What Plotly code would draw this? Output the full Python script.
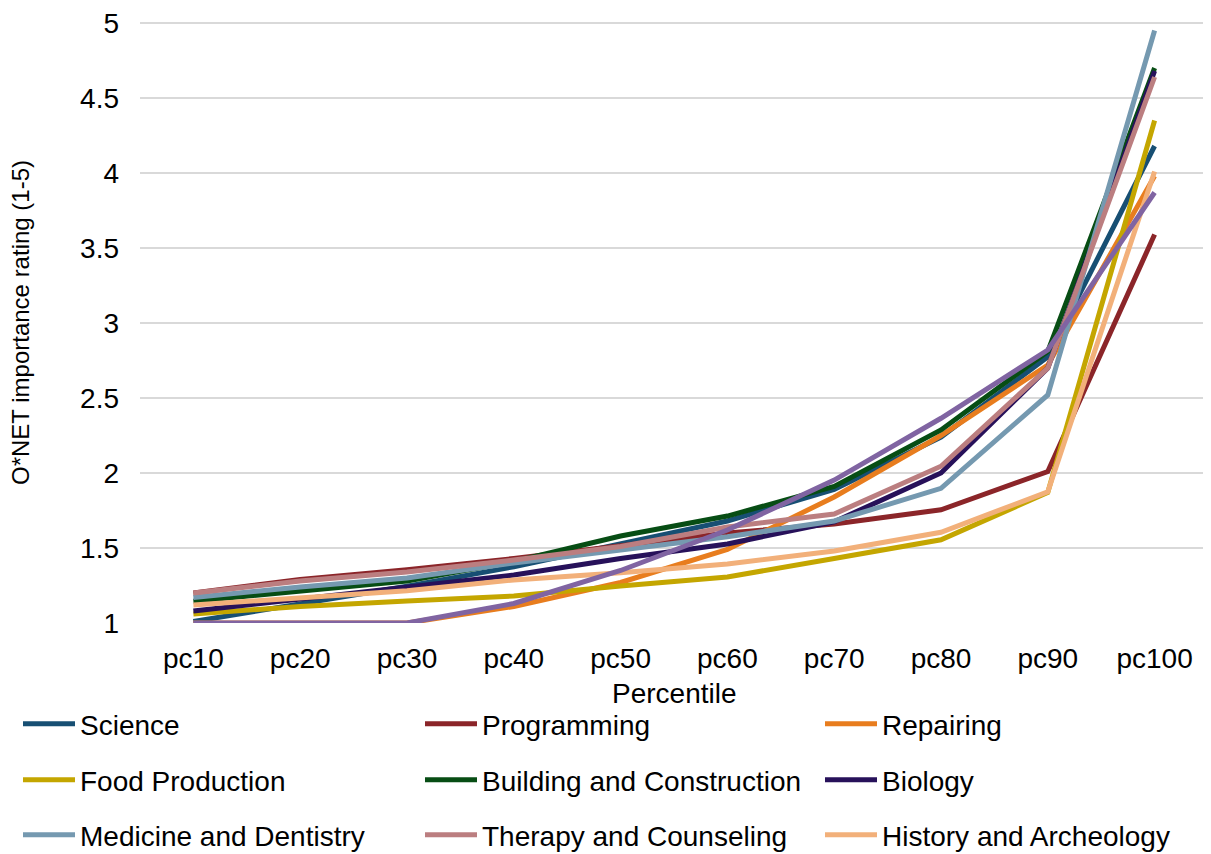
import plotly.graph_objects as go

categories = ["pc10", "pc20", "pc30", "pc40", "pc50", "pc60", "pc70", "pc80", "pc90", "pc100"]

science = [1.01, 1.13, 1.245, 1.375, 1.53, 1.68, 1.89, 2.24, 2.775, 4.18]
programming = [1.20, 1.29, 1.355, 1.43, 1.515, 1.60, 1.66, 1.755, 2.01, 3.59]
repairing = [1.00, 1.00, 1.00, 1.11, 1.27, 1.49, 1.84, 2.25, 2.72, 3.98]
food_production = [1.06, 1.11, 1.147, 1.18, 1.247, 1.307, 1.43, 1.555, 1.87, 4.35]
building = [1.145, 1.21, 1.28, 1.41, 1.58, 1.713, 1.91, 2.287, 2.81, 4.70]
biology = [1.08, 1.16, 1.24, 1.32, 1.43, 1.527, 1.675, 2.0, 2.70, 4.68]
medicine = [1.17, 1.24, 1.30, 1.40, 1.487, 1.575, 1.68, 1.898, 2.52, 4.95]
therapy = [1.20, 1.28, 1.34, 1.42, 1.51, 1.64, 1.727, 2.045, 2.70, 4.64]
history = [1.12, 1.17, 1.215, 1.287, 1.335, 1.393, 1.48, 1.605, 1.875, 4.01]
other = [1.00, 1.00, 1.00, 1.13, 1.35, 1.62, 1.953, 2.365, 2.82, 3.87]

y_ticks = [1, 1.5, 2, 2.5, 3, 3.5, 4, 4.5, 5]
y_tick_labels = ["1", "1.5", "2", "2.5", "3", "3.5", "4", "4.5", "5"]

series = [
    ("Science", science, "#174F73"),
    ("Programming", programming, "#8B2529"),
    ("Repairing", repairing, "#E87D1E"),
    ("Food Production", food_production, "#C4A600"),
    ("Building and Construction", building, "#074D14"),
    ("Biology", biology, "#27115A"),
    ("Medicine and Dentistry", medicine, "#7599B0"),
    ("Therapy and Counseling", therapy, "#BB7E80"),
    ("History and Archeology", history, "#F2B07A"),
]

FONT = "Liberation Sans, Arial, sans-serif"
OFF = 8  # page body margin offset
EXTRA = 2  # px of headroom above the top gridline so it is drawn
W, H = 1211 - OFF, 854 - OFF
L, T = 140 - OFF, 23 - OFF - EXTRA
R = W - (1208 - OFF)
B = H - (623 - OFF)
PW = W - L - R
PH = H - T - B
PX_PER_UNIT = 150.0
Y_TOP = 5 + EXTRA / PX_PER_UNIT
LW = 5

fig = go.Figure()
legend_names = ["legend"] + ["legend%d" % k for k in range(2, 10)]
for i, (name, vals, col) in enumerate(series):
    fig.add_trace(go.Scatter(x=categories, y=vals, name=name, mode="lines",
                             line=dict(color=col, width=LW),
                             legend=legend_names[i]))
# tenth series whose legend entry is cut off in the original
fig.add_trace(go.Scatter(x=categories, y=other, name="Other", mode="lines",
                         line=dict(color="#8064A2", width=LW), showlegend=False))

col_text_x = [80, 482, 882]
row_y = [726, 782, 837]
ITEMW = 52
TEXTGAP = ITEMW + 10

legend_layout = {}
for i, ln in enumerate(legend_names):
    r, c = divmod(i, 3)
    lx = col_text_x[c] - OFF - TEXTGAP
    ly = row_y[r] - OFF - 2
    legend_layout[ln] = dict(
        xref="container", yref="container",
        x=lx / W, y=1 - ly / H, xanchor="left", yanchor="middle",
        orientation="v", font=dict(family=FONT, size=28, color="#000"),
        bgcolor="rgba(0,0,0,0)", borderwidth=0, itemwidth=ITEMW,
    )

fig.update_layout(
    template="none",
    width=W, height=H,
    margin=dict(l=L, r=R, t=T, b=B, autoexpand=False),
    paper_bgcolor="white", plot_bgcolor="white",
    font=dict(family=FONT, size=28, color="#000"),
    showlegend=True,
    xaxis=dict(type="category", range=[-0.5, 9.5], showgrid=False, showline=False, zeroline=False,
               automargin=False, ticks="", tickfont=dict(size=28), ticklabelstandoff=16),
    yaxis=dict(range=[1, Y_TOP], tickvals=y_ticks, ticktext=y_tick_labels,
               automargin=False, ticklabeloverflow="allow",
               showgrid=True, gridcolor="#D9D9D9", gridwidth=1.5, zeroline=False, showline=False,
               ticks="", tickfont=dict(size=28), ticklabelstandoff=20),
    annotations=[
        dict(text="Percentile", xref="paper", yref="paper", x=0.5,
             y=-(693 - 623) / PH, xanchor="center", yanchor="middle", showarrow=False,
             font=dict(family=FONT, size=28, color="#000")),
        dict(text="O*NET importance rating (1-5)", xref="paper", yref="paper",
             x=-(140 - 20) / PW, y=(323 - (H + OFF - B)) / -PH, xanchor="center", yanchor="middle",
             textangle=-90, showarrow=False, font=dict(family=FONT, size=24, color="#000")),
    ],
    **legend_layout,
)

fig.write_html("out.html")
